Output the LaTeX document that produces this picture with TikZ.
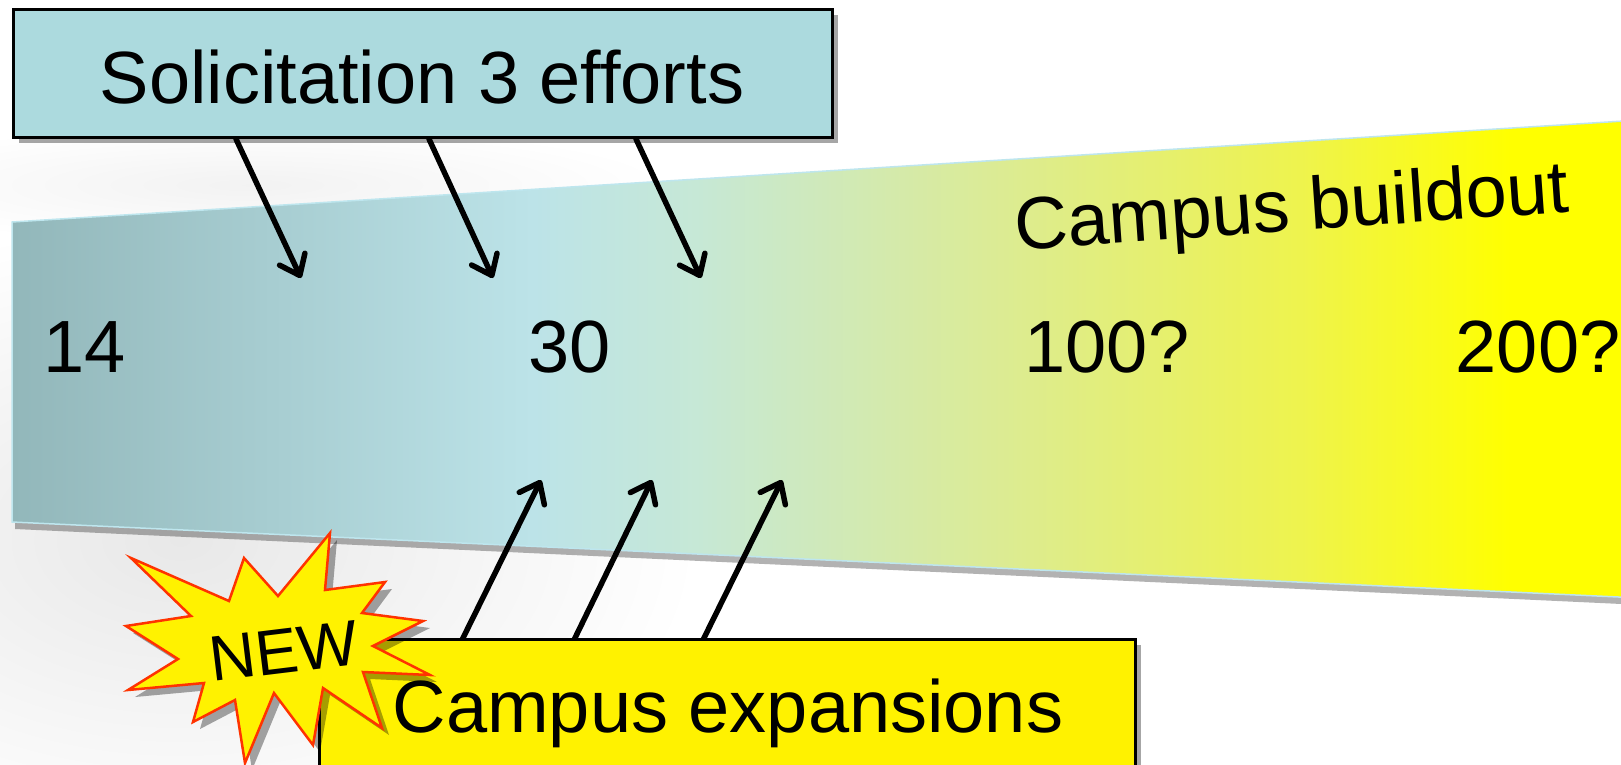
\documentclass[tikz,border=0pt]{standalone}
\usepackage{fontspec}
\setmainfont{Liberation Sans}
\usetikzlibrary{arrows.meta,shadows}
\definecolor{solfill}{HTML}{ACDADE}
\definecolor{bc0}{HTML}{92B7BA}
\definecolor{bc1}{HTML}{BCE3E8}
\definecolor{bc2}{HTML}{C6E8D6}
\definecolor{bc3}{HTML}{DBEB96}
\definecolor{bc4}{HTML}{EEF34E}
\definecolor{bc5}{HTML}{FFFF00}
\definecolor{bandedge}{HTML}{BEE6EE}
\definecolor{starred}{HTML}{FF3300}
\pgfdeclarehorizontalshading{bandshade}{100bp}{color(0bp)=(bc0); color(25bp)=(bc0); color(41bp)=(bc1); color(46bp)=(bc2); color(55bp)=(bc3); color(64.5bp)=(bc4); color(71bp)=(bc5); color(100bp)=(bc5)}
\tikzset{
  lbl/.style={font=\fontsize{74}{80}\selectfont, inner sep=0pt, text=black},
  boxsh/.style={drop shadow={shadow xshift=5pt, shadow yshift=-5pt, opacity=0.35, fill=black}},
  solbox/.style={draw=black, line width=3pt, fill=solfill, boxsh, inner sep=0pt, anchor=north west},
  expbox/.style={draw=black, line width=3pt, fill=yellow, boxsh, inner sep=0pt, anchor=north west},
  conn/.style={line width=5.5pt, draw=black, line cap=round, -{Straight Barb[length=18pt,width=28pt,round]}},
}
\begin{document}
\begin{tikzpicture}[x=1pt,y=-1pt]
\useasboundingbox (0,0) rectangle (1621,764);
\fill[white] (0,0) rectangle (1621,764);
\shade[inner color=black!9, outer color=white] (180,540) ellipse (520 and 320);
\shade[inner color=black!5, outer color=white] (250,185) ellipse (420 and 60);
% band
\path[shading=bandshade, draw=bandedge, line width=1.5pt,
  drop shadow={shadow xshift=3pt, shadow yshift=-7pt, opacity=0.3, fill=black}]
  (12,222) -- (1640,120) -- (1640,598) -- (12,522) -- cycle;
% solicitation box
\node[solbox, minimum width=819pt, minimum height=128pt] (sol) at (12,8) {};
\node[lbl, anchor=base] (solt) at (422,103) {Solicitation 3 efforts};
% numbers
\node[lbl, anchor=base] (n14) at (85,372) {14};
\node[lbl, anchor=base] (n30) at (570,372) {30};
\node[lbl, anchor=base] (n100) at (1107,372) {100?};
\node[lbl, anchor=base] (n200) at (1538,372) {200?};
\node[lbl, rotate=4] (bo) at (1292,212) {Campus buildout};
% solicitation arrows
\coordinate (sa1) at (236,139); \coordinate (sb1) at (301,278);
\coordinate (sa2) at (429,139); \coordinate (sb2) at (493,278);
\coordinate (sa3) at (636,139); \coordinate (sb3) at (701,278);
\draw[conn] (sa1) -- (sb1);
\draw[conn] (sa2) -- (sb2);
\draw[conn] (sa3) -- (sb3);
% expansion arrows
\coordinate (ea1) at (462,640); \coordinate (eb1) at (541,480);
\coordinate (ea2) at (574,640); \coordinate (eb2) at (652,480);
\coordinate (ea3) at (703,640); \coordinate (eb3) at (782,480);
\draw[conn] (ea1) -- (eb1);
\draw[conn] (ea2) -- (eb2);
\draw[conn] (ea3) -- (eb3);
% expansions box
\node[expbox, minimum width=816pt, minimum height=160pt] (exp) at (318,638) {};
\node[lbl, anchor=base] (expt) at (728,732) {Campus expansions};
% star
\path[fill=yellow, draw=starred, line width=2.5pt, line join=miter,
  drop shadow={shadow xshift=7pt, shadow yshift=-7pt, opacity=0.35, fill=black}]
  (330,533) -- (325,590) -- (385,582) -- (362,613) -- (423,621) -- (373,646)
  -- (430,675) -- (363,672) -- (382,728) -- (323,688) -- (313,745) -- (274,693)
  -- (245,763) -- (235,700) -- (193,722) -- (204,683) -- (128,690) -- (178,659)
  -- (126,626) -- (191,616) -- (131,558) -- (229,601) -- (244,558) -- (278,596) -- cycle;
\node[font=\fontsize{64}{68}\selectfont, inner sep=0pt, rotate=7] (new) at (284,651) {NEW};
\end{tikzpicture}
\end{document}
